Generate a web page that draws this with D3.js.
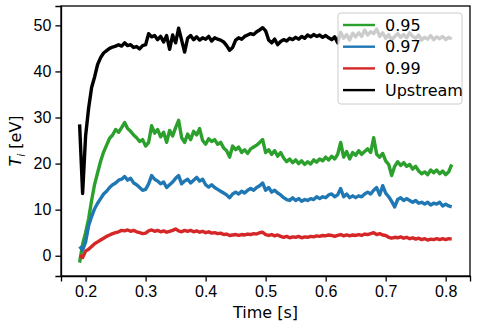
<!DOCTYPE html>
<meta charset="utf-8">
<script src="https://d3js.org/d3.v7.min.js"></script>
<style type="text/css">
body { margin: 0; background: #fff; }
svg { font-family: "DejaVu Sans", sans-serif; }
.axis path { stroke: #000; stroke-width: 1.3px; }
.axis line { stroke: #000; stroke-width: 1.3px; }
.axis text { font-size: 16px; fill: #000; }
.line { fill: none; stroke-width: 3.4px; stroke-linejoin: round; }
</style>
<body>
<script>

// samples every 5 ms starting at 0.19 s
var tStart = 0.19, tStep = 0.005;

var upstream = [
  28.5, 13.5, 26, 32, 36.5, 38.8, 41.5, 43, 44, 44.5,
  45, 45.3, 45.5, 45.8, 45.5, 46.2, 45.6, 45.8, 45.2, 45.4,
  44.9, 45.6, 45.8, 48.2, 47.5, 47.8, 46.9, 47.6, 46.4, 47.8,
  44.8, 47.9, 46.2, 49.4, 46.8, 44.2, 47.2, 47.8, 46.9, 47.5,
  46.8, 47.3, 47.0, 47.6, 46.6, 47.3, 47.0, 46.8, 46.4, 45.6,
  44.6, 45.2, 46.8, 47.3, 47.0, 47.6, 47.9, 48.2, 48.0, 48.6,
  49.0, 49.5, 48.8, 46.8, 46.2, 47.0, 45.8, 46.5, 46.9, 46.6,
  47.2, 46.9, 47.4, 47.0, 47.6, 47.2, 47.9, 47.5, 48.0, 47.6,
  47.9, 47.4, 47.8, 47.3, 46.9, 47.5, 46.2, 48.5, 47.2, 48.0,
  46.8, 48.3, 47.5, 48.4, 47.6, 49.0, 47.9, 48.6, 48.2, 49.2,
  47.6, 48.4, 47.2, 48.0, 46.8, 47.6, 48.2, 47.4, 48.0, 47.3,
  48.4, 47.6, 47.2, 47.9, 46.8, 47.4, 47.0, 47.8, 46.9, 47.5,
  47.1, 47.6, 46.9, 47.4, 47.0
];

var ti095 = [
  -1.5, 2.5, 5, 8, 12, 15.5, 18, 20.5, 22.5, 24,
  25.5, 26.2, 27.4, 26.8, 27.8, 28.9, 27.6, 27.0, 26.2, 25.6,
  24.8, 25.2, 23.8, 24.6, 28.2, 26.6, 27.4, 25.8, 26.8, 24.6,
  27.2, 26.0, 27.8, 29.4, 25.6, 24.6, 26.4, 25.2, 27.0, 26.2,
  27.6, 25.0, 24.2, 25.4, 24.8, 25.2, 24.2, 24.6, 23.4, 22.8,
  21.4, 23.8, 23.0, 23.6, 22.4, 23.0, 22.2, 23.2, 23.6, 24.0,
  24.6, 25.2, 22.4, 23.0, 22.0, 22.8, 21.6, 22.4, 21.2, 20.4,
  21.0, 20.2, 20.8, 20.0, 20.6, 19.8, 20.4, 19.9, 20.8, 20.3,
  21.0, 20.6, 21.4, 20.8, 21.6, 21.0, 22.0, 24.6, 21.4, 22.6,
  21.0, 22.4, 21.8, 22.8, 22.0, 22.6, 23.2, 22.4, 25.6, 22.0,
  21.4, 22.2, 20.6, 19.8, 17.4, 19.4, 20.4, 19.6, 20.2, 19.4,
  19.8, 18.8, 19.4, 18.4, 17.8, 18.2, 17.6, 18.6, 18.0, 18.6,
  17.8, 18.4, 17.6, 18.2, 19.8
];

var ti097 = [
  2.0, 1.2, 3.0, 6.5, 8.5, 10.2, 11.4, 12.4, 13.4, 14.0,
  14.8, 15.4, 15.8, 16.4, 16.6, 17.2, 16.4, 16.8, 15.8, 15.4,
  14.8, 14.2, 14.4, 15.6, 17.4, 16.6, 16.2, 15.6, 16.0, 14.8,
  15.4, 16.0, 16.8, 17.4, 15.6, 16.2, 16.6, 15.8, 16.4, 17.0,
  16.2, 16.6, 15.4, 14.9, 15.4, 14.8, 14.4, 14.0, 13.6, 13.2,
  12.6, 13.4, 13.8, 13.4, 14.0, 13.6, 14.2, 14.6, 14.2, 14.8,
  15.2, 15.8, 14.2, 14.8, 13.8, 14.2, 13.6, 13.2, 12.6, 12.2,
  12.0, 12.6, 12.0, 12.4, 11.8, 12.2, 12.0, 12.4, 12.2, 12.8,
  12.4, 12.8, 12.6, 13.2, 13.4, 12.8, 13.2, 14.6, 12.8, 13.4,
  12.6, 13.0, 12.6, 13.0, 12.8, 13.4, 13.8, 13.4, 14.2, 14.8,
  13.2, 15.2, 13.6, 12.8, 11.8, 10.6, 12.2, 12.6, 12.0, 12.4,
  12.0, 11.6, 12.0, 11.4, 11.6, 11.2, 11.6, 11.0, 11.4, 11.2,
  11.6, 10.8, 11.2, 10.8, 10.6
];

var ti099 = [
  0.0, -0.4, 1.0, 1.4, 2.0, 2.6, 3.0, 3.4, 3.8, 4.2,
  4.5, 4.8, 5.0, 5.2, 5.5, 5.4, 5.6, 5.3, 5.5, 5.2,
  5.0, 4.8, 4.9, 5.4, 5.6, 5.3, 5.5, 5.2, 5.4, 5.1,
  5.3, 5.5, 5.8, 5.4, 5.2, 5.5, 5.3, 5.5, 5.2, 5.4,
  5.1, 5.3, 5.0, 5.2, 4.9, 5.0, 4.8, 4.9, 4.6, 4.7,
  4.4, 4.5, 4.6, 4.4, 4.6, 4.5, 4.7, 4.6, 4.8, 4.7,
  5.0, 5.1, 4.6, 4.4, 4.6, 4.3, 4.5, 4.2, 4.0, 4.2,
  3.9, 4.1, 4.0, 4.2, 3.9, 4.1, 4.0, 4.2, 4.1, 4.3,
  4.2, 4.4, 4.3, 4.5, 4.4, 4.2, 4.4, 4.6, 4.3, 4.5,
  4.3, 4.5, 4.4, 4.6, 4.4, 4.7, 4.6, 4.8, 5.0, 4.6,
  4.8, 4.5, 4.4, 4.0, 3.8, 4.0, 3.9, 4.1, 3.8, 4.0,
  3.7, 3.9, 3.6, 3.8, 3.5, 3.7, 3.4, 3.6, 3.5, 3.7,
  3.5, 3.7, 3.5, 3.7, 3.6
];

var labels = ["0.95", "0.97", "0.99", "Upstream"];
var colors = ["#2ca02c", "#1f77b4", "#d62728", "#000000"];
var xTicks = [0.2, 0.3, 0.4, 0.5, 0.6, 0.7, 0.8];
var yTicks = [0, 10, 20, 30, 40, 50];

var series = [ti095, ti097, ti099, upstream];

var margin = {top: 6, right: 9, bottom: 56, left: 61};
var width = 479 - margin.left - margin.right,
    height = 332 - margin.top - margin.bottom;

var svg = d3.select("body").append("svg")
  .attr("width", 479)
  .attr("height", 332)
  .append("g")
  .attr("transform", "translate(" + margin.left + "," + margin.top + ")");

var xScale = d3.scaleLinear()
  .domain([0.159, 0.8405])
  .range([0, width]);

var yScale = d3.scaleLinear()
  .domain([-4.4, 54.2])
  .range([height, 0]);

var xAxis = d3.axisBottom(xScale)
  .tickValues(xTicks)
  .tickFormat(d3.format(".1f"))
  .tickSize(5.6)
  .tickPadding(4);

var yAxis = d3.axisLeft(yScale)
  .tickValues(yTicks)
  .tickSize(5.6)
  .tickPadding(4);

svg.append("clipPath").attr("id", "clip")
  .append("rect").attr("width", width).attr("height", height);

var lineGenerator = d3.line()
  .x(function(d, i) { return xScale(tStart + i * tStep); })
  .y(function(d) { return yScale(d); });

svg.append("g").attr("clip-path", "url(#clip)")
  .selectAll(".line")
  .data(series)
  .enter().append("path")
  .attr("class", "line")
  .style("stroke", function(d, i) { return colors[i]; })
  .attr("d", lineGenerator);

svg.append("g")
  .attr("class", "x axis")
  .attr("transform", "translate(0," + height + ")")
  .call(xAxis);

svg.append("g")
  .attr("class", "y axis")
  .call(yAxis);

// frame
svg.append("rect")
  .attr("width", width)
  .attr("height", height)
  .style("fill", "none")
  .style("stroke", "#000")
  .style("stroke-width", 1.3);

svg.append("text")
  .attr("x", width / 2)
  .attr("y", height + 42)
  .attr("text-anchor", "middle")
  .style("font-size", "16px")
  .text("Time [s]");

var ylab = svg.append("text")
  .attr("transform", "translate(-40," + (height / 2) + ") rotate(-90)")
  .attr("text-anchor", "middle")
  .style("font-size", "16px");
ylab.append("tspan").style("font-style", "italic").text("T");
ylab.append("tspan").style("font-style", "italic").style("font-size", "11px").attr("dy", 4).text("i");
ylab.append("tspan").attr("dy", -4).text(" [eV]");

// legend
var legend = svg.append("g")
  .attr("transform", "translate(" + (338 - margin.left) + "," + (13 - margin.top) + ")");

legend.append("rect")
  .attr("width", 124)
  .attr("height", 91)
  .attr("rx", 3)
  .style("fill", "#fff")
  .style("fill-opacity", 0.8)
  .style("stroke", "#ccc")
  .style("stroke-width", 1);

var items = legend.selectAll(".item")
  .data(labels)
  .enter().append("g")
  .attr("class", "item")
  .attr("transform", function(d, i) { return "translate(0," + (12 + i * 21.7) + ")"; });

items.append("line")
  .attr("x1", 5).attr("x2", 37)
  .style("stroke", function(d, i) { return colors[i]; })
  .style("stroke-width", 2.4);

items.append("text")
  .attr("x", 47)
  .attr("dy", "0.35em")
  .style("font-size", "16px")
  .text(function(d) { return d; });

</script>
</body>
